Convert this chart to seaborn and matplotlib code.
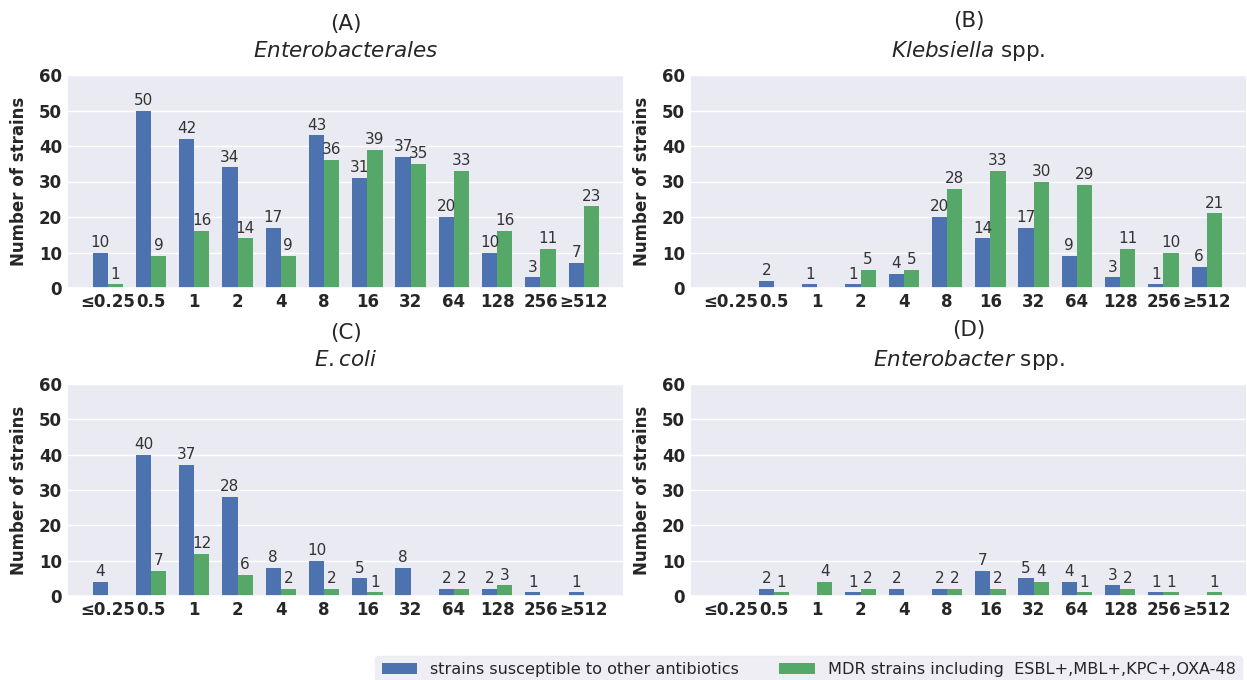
import numpy as np
import pandas as pd
import seaborn as sns
import matplotlib.pyplot as plt
from matplotlib.patches import Patch

# MIC classes (mg/L) on the x axis
mic = ["≤0.25", "0.5", "1", "2", "4", "8", "16", "32", "64", "128", "256", "≥512"]

# Number of strains per MIC class
entero_susc = [10, 50, 42, 34, 17, 43, 31, 37, 20, 10, 3, 7]
entero_mdr = [1, 9, 16, 14, 9, 36, 39, 35, 33, 16, 11, 23]
kleb_susc = [0, 2, 1, 1, 4, 20, 14, 17, 9, 3, 1, 6]
kleb_mdr = [0, 0, 0, 5, 5, 28, 33, 30, 29, 11, 10, 21]
ecoli_susc = [4, 40, 37, 28, 8, 10, 5, 8, 2, 2, 1, 1]
ecoli_mdr = [0, 7, 12, 6, 2, 2, 1, 0, 2, 3, 0, 0]
entb_susc = [0, 2, 0, 1, 2, 2, 7, 5, 4, 3, 1, 0]
entb_mdr = [0, 1, 4, 2, 0, 2, 2, 4, 1, 2, 1, 1]

groups = ["strains susceptible to other antibiotics",
          "MDR strains including  ESBL+,MBL+,KPC+,OXA-48"]
colors = ["#4C72B0", "#55A868"]

panels = [
    ("(A)\n$\\it{Enterobacterales}$", entero_susc, entero_mdr),
    ("(B)\n$\\it{Klebsiella}$ spp.", kleb_susc, kleb_mdr),
    ("(C)\n$\\it{E. coli}$", ecoli_susc, ecoli_mdr),
    ("(D)\n$\\it{Enterobacter}$ spp.", entb_susc, entb_mdr),
]

sns.set_theme(style="darkgrid")
plt.rcParams["font.family"] = ["DejaVu Sans"]

W, H = 1247, 680
fig = plt.figure(figsize=(W / 100, H / 100), dpi=100)

# axes boxes in pixels: left, top, right, bottom
boxes = [(67, 75, 624, 288), (690, 75, 1247, 288),
         (67, 384, 624, 596), (690, 384, 1247, 596)]

for (title, susc, mdr), (l, t, r, b) in zip(panels, boxes):
    ax = fig.add_axes([l / W, (H - b) / H, (r - l) / W, (b - t) / H])
    df = pd.DataFrame({
        "mic": mic * 2,
        "count": susc + mdr,
        "group": [groups[0]] * len(mic) + [groups[1]] * len(mic),
    })
    sns.barplot(data=df, x="mic", y="count", hue="group", order=mic,
                hue_order=groups, palette=colors, width=0.7,
                saturation=1, legend=False, ax=ax, linewidth=0)
    for cont in ax.containers:
        for bar in cont:
            h = bar.get_height()
            if h > 0:
                ax.annotate(f"{int(h)}", (bar.get_x() + bar.get_width() / 2, h),
                            xytext=(0, 2), textcoords="offset points",
                            ha="center", va="bottom", fontsize=11,
                            color="#333333")
    ax.set_ylim(0, 60)
    ax.set_xlim(-0.94, 11.93)
    ax.set_yticks([0, 10, 20, 30, 40, 50, 60])
    ax.set_xlabel("")
    ax.set_ylabel("Number of strains", fontsize=12, fontweight="bold",
                  labelpad=8)
    ax.set_title(title, fontsize=15.5, pad=13, linespacing=1.45)
    ax.tick_params(axis="both", labelsize=12, length=0, pad=3.5)
    for lab in ax.get_xticklabels() + ax.get_yticklabels():
        lab.set_fontweight("bold")

handles = [Patch(facecolor=c, edgecolor="none") for c in colors]
fig.legend(handles, groups, ncol=2, loc="lower right",
           bbox_to_anchor=(0.996, -0.005), borderaxespad=0, fontsize=11.6,
           handlelength=2.2, columnspacing=2.5, frameon=True,
           facecolor="#EAEAF2", edgecolor="#EAEAF2")

fig.savefig("out.png", dpi=100)
